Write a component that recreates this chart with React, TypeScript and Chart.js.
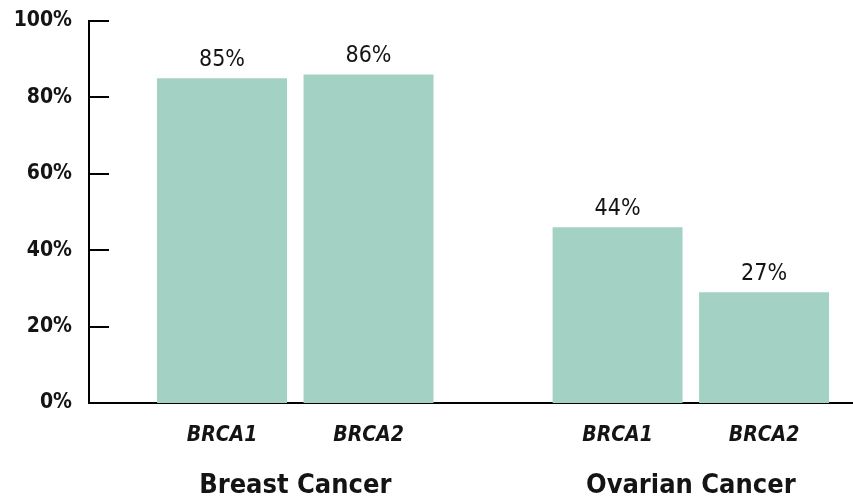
import React, { useEffect, useRef } from "react";
import { Chart, registerables } from "chart.js";

Chart.register(...registerables);

// ---- data ----
const groups = ["Breast Cancer", "Ovarian Cancer"];
const genes = ["BRCA1", "BRCA2", "BRCA1", "BRCA2"];
const riskHeights = [85, 86, 46, 29];
const riskLabels = ["85%", "86%", "44%", "27%"];
const yTicks = [0, 20, 40, 60, 80, 100];

// ---- layout / style constants ----
const GROUP_GAP = 0.7;
const BARS_PER_GROUP = 2;
const FONT = "'DejaVu Sans Condensed', 'DejaVu Sans', sans-serif";
const TEXT = "#141414";
const BAR = "#a3d1c3";

const xPos = genes.map((_, i) => i + Math.floor(i / BARS_PER_GROUP) * GROUP_GAP);
const groupPos = groups.map((_, g) => {
  const a = xPos[g * BARS_PER_GROUP];
  const b = xPos[g * BARS_PER_GROUP + BARS_PER_GROUP - 1];
  return (a + b) / 2;
});
const X_MIN = -0.908;
const X_MAX = 4.307;

const innerTicks = {
  id: "innerTicks",
  afterDatasetsDraw(chart: any) {
    const { ctx, chartArea, scales } = chart;
    ctx.save();
    ctx.strokeStyle = "#000";
    ctx.lineWidth = 2;
    yTicks.forEach((t) => {
      if (t === 0) return;
      const y = Math.round(scales.y.getPixelForValue(t));
      ctx.beginPath();
      ctx.moveTo(chartArea.left, y);
      ctx.lineTo(chartArea.left + 20, y);
      ctx.stroke();
    });
    ctx.restore();
  },
};

const valueLabels = {
  id: "valueLabels",
  afterDatasetsDraw(chart: any) {
    const { ctx } = chart;
    const meta = chart.getDatasetMeta(0);
    ctx.save();
    ctx.fillStyle = TEXT;
    ctx.font = `normal 23px ${FONT}`;
    ctx.textAlign = "center";
    ctx.textBaseline = "alphabetic";
    meta.data.forEach((bar: any, i: number) => {
      ctx.fillText(riskLabels[i], bar.x, bar.y - 12);
    });
    ctx.restore();
  },
};

export default function App() {
  const ref = useRef<HTMLCanvasElement>(null);

  useEffect(() => {
    if (!ref.current) return;
    const chart = new Chart(ref.current, {
      type: "bar",
      data: {
        datasets: [
          {
            data: xPos.map((x, i) => ({ x, y: riskHeights[i] })),
            backgroundColor: BAR,
            borderWidth: 0,
            barPercentage: 0.887,
            categoryPercentage: 1,
            xAxisID: "x",
            yAxisID: "y",
          },
        ],
      },
      options: {
        responsive: false,
        animation: false,
        devicePixelRatio: 1,
        layout: { padding: { top: 21, right: 0, bottom: 0, left: 0 } },
        plugins: { legend: { display: false }, tooltip: { enabled: false } },
        scales: {
          x: {
            type: "linear",
            position: "bottom",
            min: X_MIN,
            max: X_MAX,
            offset: false,
            bounds: "data",
            grid: { display: false, drawTicks: false, offset: false },
            border: { display: true, color: "#000", width: 2 },
            afterBuildTicks: (scale: any) => {
              scale.ticks = xPos.map((v) => ({ value: v }));
            },
            afterFit: (scale: any) => {
              scale.height = 55;
              scale.paddingLeft = 0;
              scale.paddingRight = 0;
            },
            ticks: {
              autoSkip: false,
              maxRotation: 0,
              padding: 20,
              color: TEXT,
              font: { family: FONT, size: 21, weight: "bold", style: "italic" },
              callback: (_v: any, i: number) => genes[i],
            },
          },
          x2: {
            type: "linear",
            position: "bottom",
            min: X_MIN,
            max: X_MAX,
            offset: false,
            bounds: "data",
            grid: { display: false, drawTicks: false },
            border: { display: false },
            afterBuildTicks: (scale: any) => {
              scale.ticks = groupPos.map((v) => ({ value: v }));
            },
            afterFit: (scale: any) => {
              scale.height = 41;
              scale.paddingLeft = 0;
              scale.paddingRight = 0;
            },
            ticks: {
              autoSkip: false,
              maxRotation: 0,
              padding: 12,
              color: TEXT,
              font: { family: FONT, size: 27, weight: "bold" },
              callback: (_v: any, i: number) => groups[i],
            },
          },
          y: {
            type: "linear",
            min: 0,
            max: 100,
            grid: { display: false, drawTicks: false },
            border: { display: true, color: "#000", width: 2 },
            afterBuildTicks: (scale: any) => {
              scale.ticks = yTicks.map((v) => ({ value: v }));
            },
            afterFit: (scale: any) => {
              scale.width = 89;
              scale.paddingTop = 0;
              scale.paddingBottom = 0;
            },
            ticks: {
              padding: 17,
              color: TEXT,
              font: { family: FONT, size: 21, weight: "bold" },
              callback: (v: any) => `${v}%`,
            },
          },
        },
      },
      plugins: [innerTicks, valueLabels],
    });
    return () => chart.destroy();
  }, []);

  return (
    <div style={{ position: "fixed", left: 0, top: 0, width: 853, height: 499, background: "#fff" }}>
      <canvas ref={ref} width={853} height={499} style={{ display: "block" }} />
    </div>
  );
}
